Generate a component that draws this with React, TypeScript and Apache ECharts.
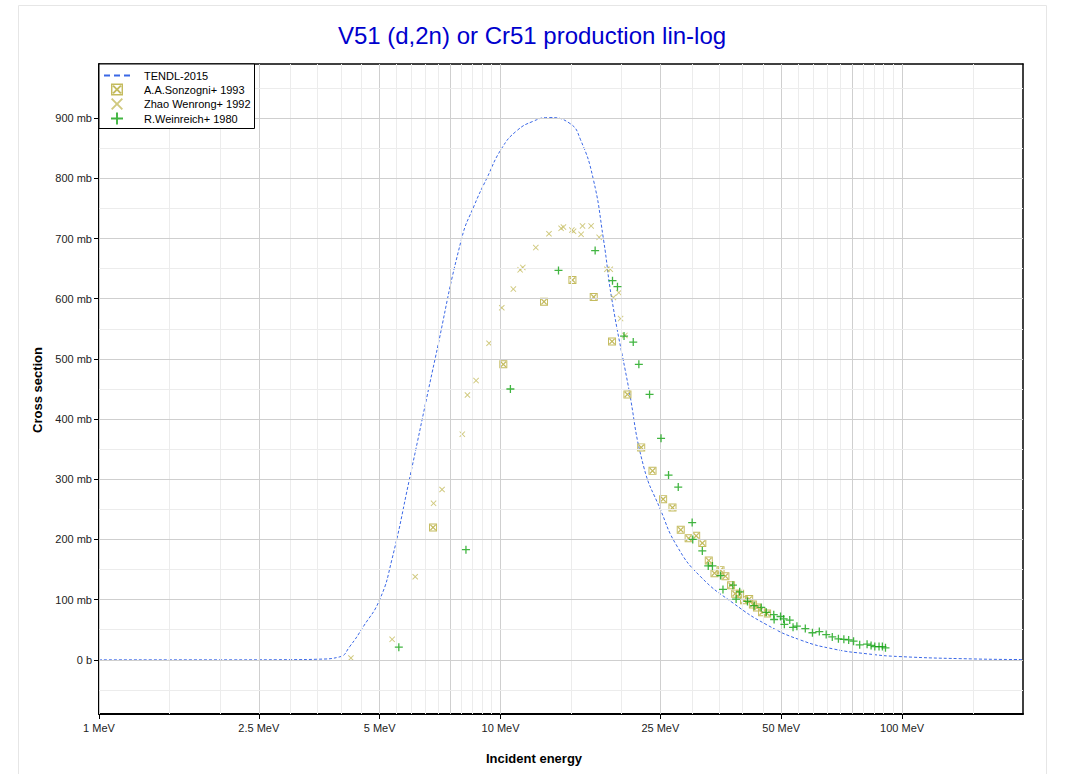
import React, { useEffect, useRef } from 'react';
import * as echarts from 'echarts';

const FONT = '"Liberation Sans", Arial, Helvetica, sans-serif';

const TITLE = 'V51 (d,2n) or Cr51 production lin-log';
const X_NAME = 'Incident energy';
const Y_NAME = 'Cross section';

const X_MIN = 1;
const X_MAX = 200;
const Y_MIN = -90;
const Y_MAX = 990;

const xLabelTicks = [1, 2.5, 5, 10, 25, 50, 100];
const xMajorGrid = [1, 2.5, 5, 7.5, 10, 25, 50, 75, 100];
const xMinorGrid = [1.5, 2, 3, 3.5, 4, 4.5, 5.5, 6, 6.5, 7, 8, 8.5, 9, 9.5, 15, 20, 30, 35, 40, 45, 55, 60, 65, 70, 80, 85, 90, 95, 150];
const yLabelTicks = [0, 100, 200, 300, 400, 500, 600, 700, 800, 900];
const yMinorGrid = [-50, 50, 150, 250, 350, 450, 550, 650, 750, 850, 950];

// TENDL-2015 evaluated curve (MeV, mb)
const tendlE = [1, 2, 3, 3.5, 3.98, 4.21, 4.55, 5.0, 5.36, 5.93, 6.87, 8.0, 8.6, 9.24, 10.07, 10.97, 12.07, 13.15, 14.9, 15.8, 17.0, 18.04, 18.93, 20.8, 22.7, 25.0, 27.5, 31.4, 38.0, 46.1, 55.8, 67.5, 81.8, 98, 150, 200];
const tendlXs = [0, 0, 0.3, 1, 5, 22, 55, 100, 166, 300, 500, 700, 755, 800, 850, 879, 895, 901, 891, 865, 800, 699, 599, 455, 322, 250, 189, 139, 94, 58, 33, 18, 10, 5.5, 1.5, 0.5];

// A.A.Sonzogni+ 1993
const sonzE = [6.79, 10.16, 12.83, 15.1, 17.06, 18.95, 20.7, 22.4, 23.9, 25.4, 26.8, 28.1, 29.4, 30.7, 31.8, 33.0, 34.1, 35.3, 36.3, 37.5, 38.4, 39.5, 40.4, 41.6, 42.5, 43.5, 44.8, 46.1];
const sonzXs = [220, 491, 595, 631, 603, 529, 441, 353, 314, 267, 253, 216, 202, 206, 194, 165, 144, 149, 139, 124, 110, 110, 99, 101, 92, 87, 79, 77];

// Zhao Wenrong+ 1992
const zhaoE = [4.24, 5.37, 6.13, 6.81, 7.15, 8.03, 8.27, 8.69, 9.36, 10.07, 10.76, 11.19, 11.36, 12.24, 13.2, 14.15, 14.34, 15.05, 15.2, 15.87, 16.0, 16.81, 17.6, 18.4, 18.76, 19.1, 19.7, 19.9, 20.4];
const zhaoXs = [3, 34, 138, 260, 283, 375, 440, 464, 526, 585, 616, 648, 652, 685, 708, 717, 719, 714, 712, 707, 721, 721, 702, 649, 649, 602, 610, 567, 539];

// R.Weinreich+ 1980
const weinE = [5.58, 8.2, 10.58, 13.94, 17.2, 19.0, 19.55, 20.3, 21.4, 22.1, 23.5, 25.1, 26.2, 27.7, 30.0, 30.1, 31.8, 32.9, 33.7, 35.3, 35.8, 37.9, 38.6, 39.4, 41.2, 42.8, 44.6, 45.9, 47.9, 48.0, 49.8, 50.7, 50.9, 52.5, 53.5, 54.7, 57.4, 59.8, 62.2, 64.7, 67.0, 69.4, 71.6, 73.6, 75.7, 78.4, 81.8, 83.7, 85.5, 87.6, 89.3, 90.9];
const weinXs = [21, 183, 450, 647, 680, 630, 620, 538, 528, 491, 441, 368, 307, 287, 228, 200, 181, 156, 156, 140, 117, 124, 101, 113, 97, 90, 87, 79, 75, 67, 72, 68, 59, 66, 54, 56, 52, 45, 47, 42, 38, 35, 34, 33, 31, 25, 26, 24, 22, 22, 22, 20];

const SERIES_NAMES = ['TENDL-2015', 'A.A.Sonzogni+ 1993', 'Zhao Wenrong+ 1992', 'R.Weinreich+ 1980'];

const KHAKI = '#c4bb5e';
const GREEN = '#12a312';
const BLUE = '#3b68e6';

const SYM_BOXX = 'path://M0,0 H10 V10 H0 Z M1.2,1.2 V8.8 H8.8 V1.2 Z M1.2,2.3 L2.3,1.2 L5,3.9 L7.7,1.2 L8.8,2.3 L6.1,5 L8.8,7.7 L7.7,8.8 L5,6.1 L2.3,8.8 L1.2,7.7 L3.9,5 Z';
const SYM_X = 'path://M0,1.1 L1.1,0 L5,3.9 L8.9,0 L10,1.1 L6.1,5 L10,8.9 L8.9,10 L5,6.1 L1.1,10 L0,8.9 L3.9,5 Z';
const SYM_PLUS = 'path://M4.2,0 H5.8 V4.2 H10 V5.8 H5.8 V10 H4.2 V5.8 H0 V4.2 H4.2 Z';
const ICON_DASH = 'path://M0,0 H6 V2 H0 Z M10,0 H16 V2 H10 Z M20,0 H26 V2 H20 Z';

const pairs = (xs: number[], ys: number[]) => xs.map((x, i) => [x, ys[i]]);

const fmtE = (v: number) => `${+Number(v).toPrecision(3)} MeV`;

export default function App() {
  const ref = useRef<HTMLDivElement>(null);

  useEffect(() => {
    if (!ref.current) return;
    const chart = echarts.init(ref.current, undefined, { renderer: 'svg' });

    const xInward = [...xMajorGrid, ...xMinorGrid].filter((v) => xLabelTicks.indexOf(v) < 0);
    const xAll = [...xMajorGrid, ...xMinorGrid];
    const yAll = [...yLabelTicks, ...yMinorGrid];

    const baseX = { type: 'log', logBase: 10, min: X_MIN, max: X_MAX, gridIndex: 0, splitLine: { show: false }, minorTick: { show: false }, minorSplitLine: { show: false } };
    const baseY = { type: 'value', min: Y_MIN, max: Y_MAX, gridIndex: 0, splitLine: { show: false }, minorTick: { show: false } };

    const gridLines = [
      ...xMajorGrid.map((v) => ({ xAxis: v, lineStyle: { color: '#cfcfcf', width: 1, type: 'solid' } })),
      ...xMinorGrid.map((v) => ({ xAxis: v, lineStyle: { color: '#ececec', width: 1, type: 'solid' } })),
      ...yLabelTicks.map((v) => ({ yAxis: v, lineStyle: { color: '#cfcfcf', width: 1, type: 'solid' } })),
      ...yMinorGrid.map((v) => ({ yAxis: v, lineStyle: { color: '#ececec', width: 1, type: 'solid' } })),
    ];

    const option: any = {
      animation: false,
      backgroundColor: '#fff',
      textStyle: { fontFamily: FONT },
      grid: { left: 99, top: 64, width: 924, height: 650, containLabel: false, outerBoundsMode: 'none', show: false },
      xAxis: [
        {
          ...baseX,
          position: 'bottom',
          axisLine: { show: true, onZero: false, lineStyle: { color: '#000', width: 2 } },
          axisTick: { show: true, customValues: xLabelTicks, length: 5, inside: false, lineStyle: { color: '#000', width: 1 } },
          axisLabel: { show: true, customValues: xLabelTicks, formatter: (v: number) => fmtE(v), color: '#222', fontSize: 11, fontFamily: FONT, margin: 8 },
        },
        {
          ...baseX,
          position: 'bottom',
          axisLine: { show: false, onZero: false },
          axisTick: { show: true, customValues: xInward, length: 4, inside: true, lineStyle: { color: '#444', width: 1 } },
          axisLabel: { show: false },
        },
        {
          ...baseX,
          position: 'top',
          axisLine: { show: true, onZero: false, lineStyle: { color: '#000', width: 1.5 } },
          axisTick: { show: true, customValues: xAll, length: 4, inside: true, lineStyle: { color: '#888', width: 1 } },
          axisLabel: { show: false },
        },
      ],
      yAxis: [
        {
          ...baseY,
          position: 'left',
          axisLine: { show: true, onZero: false, lineStyle: { color: '#000', width: 2 } },
          axisTick: { show: true, customValues: yLabelTicks, length: 5, inside: false, lineStyle: { color: '#000', width: 1 } },
          axisLabel: { show: true, customValues: yLabelTicks, formatter: (v: number) => (v === 0 ? '0 b' : `${v} mb`), color: '#222', fontSize: 11, fontFamily: FONT, margin: 7 },
        },
        {
          ...baseY,
          position: 'left',
          axisLine: { show: false, onZero: false },
          axisTick: { show: true, customValues: yMinorGrid, length: 4, inside: true, lineStyle: { color: '#444', width: 1 } },
          axisLabel: { show: false },
        },
        {
          ...baseY,
          position: 'right',
          axisLine: { show: true, onZero: false, lineStyle: { color: '#000', width: 1.5 } },
          axisTick: { show: true, customValues: yAll, length: 4, inside: true, lineStyle: { color: '#555', width: 1 } },
          axisLabel: { show: false },
        },
      ],
      legend: {
        left: 99,
        top: 64,
        orient: 'vertical',
        padding: [6, 4, 4, 5],
        itemGap: 2.5,
        itemWidth: 26,
        itemHeight: 12,
        borderColor: '#000',
        borderWidth: 1,
        borderRadius: 0,
        backgroundColor: '#fff',
        selectedMode: false,
        textStyle: { fontSize: 11, color: '#000', fontFamily: FONT, padding: [0, 0, 0, 9] },
        data: [
          { name: SERIES_NAMES[0], icon: ICON_DASH },
          { name: SERIES_NAMES[1] },
          { name: SERIES_NAMES[2] },
          { name: SERIES_NAMES[3] },
        ],
        z: 10,
      },
      graphic: [
        {
          type: 'rect',
          silent: true,
          z: -10,
          shape: { x: 18.5, y: 5.5, width: 1028, height: 800 },
          style: { fill: 'none', stroke: '#e6e6e6', lineWidth: 1 },
        },
        {
          type: 'text',
          silent: true,
          x: 532,
          y: 35,
          style: { text: TITLE, fill: '#0000cd', font: `24px ${FONT}`, textAlign: 'center', textVerticalAlign: 'middle' },
        },
        {
          type: 'text',
          silent: true,
          x: 534,
          y: 758,
          style: { text: X_NAME, fill: '#000', font: `bold 13px ${FONT}`, textAlign: 'center', textVerticalAlign: 'middle' },
        },
        {
          type: 'text',
          silent: true,
          x: 37,
          y: 390,
          rotation: Math.PI / 2,
          style: { text: Y_NAME, fill: '#000', font: `bold 13px ${FONT}`, textAlign: 'center', textVerticalAlign: 'middle' },
        },
      ],
      series: [
        {
          name: '_grid',
          type: 'line',
          data: [],
          z: 1,
          silent: true,
          symbol: 'none',
          markLine: {
            silent: true,
            symbol: ['none', 'none'],
            label: { show: false },
            emphasis: { disabled: true },
            animation: false,
            data: gridLines,
          },
        },
        {
          name: SERIES_NAMES[0],
          type: 'line',
          data: pairs(tendlE, tendlXs),
          showSymbol: false,
          symbol: 'none',
          smooth: 0.5,
          z: 3,
          lineStyle: { color: BLUE, width: 1, type: [3, 2] },
          itemStyle: { color: BLUE },
          emphasis: { disabled: true },
        },
        {
          name: SERIES_NAMES[1],
          type: 'scatter',
          data: pairs(sonzE, sonzXs),
          symbol: SYM_BOXX,
          symbolSize: 8,
          z: 4,
          itemStyle: { color: KHAKI, opacity: 1 },
          emphasis: { disabled: true },
        },
        {
          name: SERIES_NAMES[2],
          type: 'scatter',
          data: pairs(zhaoE, zhaoXs),
          symbol: SYM_X,
          symbolSize: 6,
          z: 4,
          itemStyle: { color: KHAKI },
          emphasis: { disabled: true },
        },
        {
          name: SERIES_NAMES[3],
          type: 'scatter',
          data: pairs(weinE, weinXs),
          symbol: SYM_PLUS,
          symbolSize: 8,
          z: 5,
          itemStyle: { color: GREEN },
          emphasis: { disabled: true },
        },
      ],
    };

    chart.setOption(option);
    return () => chart.dispose();
  }, []);

  return (
    <div
      ref={ref}
      style={{ position: 'fixed', left: 0, top: 0, width: 1071, height: 774, background: '#fff' }}
    />
  );
}
